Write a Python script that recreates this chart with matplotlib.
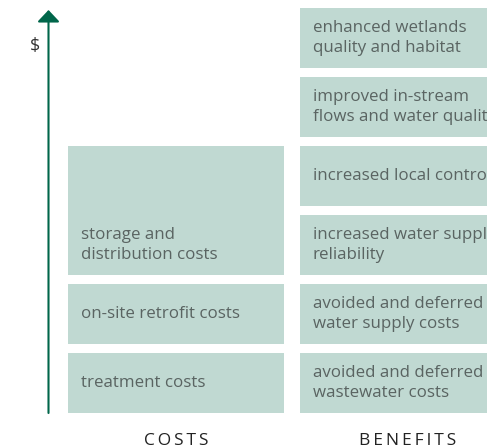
import numpy as np
import matplotlib
matplotlib.use("Agg")
from matplotlib import pyplot as plt

# stacked items, bottom to top; size in "units" of cost/benefit
cost_labels = ["treatment costs", "on-site retrofit costs", "storage and\ndistribution costs"]
cost_units = [1, 1, 2]
benefit_labels = [
    "avoided and deferred\nwastewater costs",
    "avoided and deferred\nwater supply costs",
    "increased water supply\nreliability",
    "increased local control",
    "improved in-stream\nflows and water quality",
    "enhanced wetlands\nquality and habitat",
]
benefit_units = [1, 1, 1, 1, 1, 1]
columns = ["COSTS", "BENEFITS"]

box_color = "#c0d9d2"
text_color = "#5a6462"
arrow_color = "#00664a"
gap = 9 / 69  # gap between stacked boxes, in units
bar_width = 216 / 232

plt.rcParams["font.family"] = ["Open Sans", "DejaVu Sans"]

W, H, dpi = 487, 448, 100
fig = plt.figure(figsize=(W / dpi, H / dpi), dpi=dpi)
ax = fig.add_axes([0, 35 / H, 1, 413 / H])
ax.set_xlim(-176 / 232, (W - 176) / 232)
ax.set_ylim(0, 413 / 69)

for col, (labels, units) in enumerate([(cost_labels, cost_units), (benefit_labels, benefit_units)]):
    bottoms = np.concatenate([[0], np.cumsum(units)[:-1]])
    heights = np.array(units) - gap
    ax.bar([col] * len(units), heights, bottom=bottoms, width=bar_width,
           color=box_color, align="center", linewidth=0)
    for lab, b in zip(labels, bottoms):
        ax.text(col - bar_width / 2 + 13 / 232, b + (1 - gap) / 2, lab,
                ha="left", va="center", fontsize=12.2, color=text_color,
                linespacing=1.37)

# vertical $ axis arrow
axis_x = (48.5 - 176) / 232
ax.annotate("", xy=(axis_x, 403 / 69), xytext=(axis_x, 0),
            arrowprops=dict(arrowstyle="-|>,head_length=0.72,head_width=0.68",
                            mutation_scale=10, color=arrow_color, lw=1.5,
                            shrinkA=0, shrinkB=0))
ax.text((35 - 176) / 232, (413 - 46) / 69, "$", ha="center", va="center",
        fontsize=13, color="#333333")

ax.set_xticks([0, 1])
ax.set_xticklabels(["\u2009".join(c) for c in columns], fontsize=12.5, color="#222222")
ax.tick_params(axis="x", length=0, pad=14.5)
ax.set_yticks([])
for s in ax.spines.values():
    s.set_visible(False)

fig.savefig("out.png", dpi=dpi)
